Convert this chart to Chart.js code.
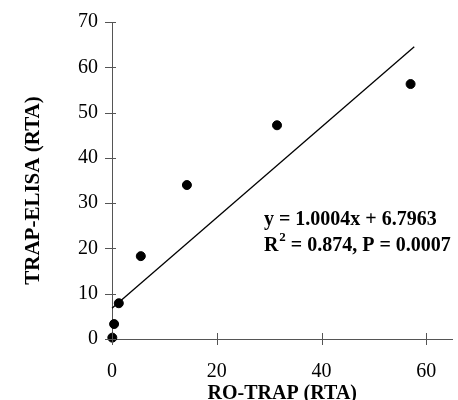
<!DOCTYPE html>
<html>
<head>
<meta charset="utf-8">
<script src="https://cdn.jsdelivr.net/npm/chart.js@4.4.1/dist/chart.umd.min.js"></script>
<style>
html,body{margin:0;padding:0;background:#fff;overflow:hidden;}
canvas{display:block;}
</style>
</head>
<body>
<canvas id="c" width="458" height="400"></canvas>
<script>
// Data
const roTrap = [0.06, 0.4, 1.3, 5.5, 14.3, 31.5, 57.0];
const trapElisa = [0.3, 3.3, 7.9, 18.3, 34.0, 47.2, 56.3];
const slope = 1.0004;
const intercept = 6.7963;
const fitRange = [0, 57.7];
const xTicks = [0, 20, 40, 60];
const yTicks = [0, 10, 20, 30, 40, 50, 60, 70];
const xTitle = 'RO-TRAP (RTA)';
const yTitle = 'TRAP-ELISA (RTA)';
const eqLine1 = 'y = 1.0004x + 6.7963';
const eqLine2a = 'R';
const eqLine2sup = '2';
const eqLine2b = ' = 0.874, P = 0.0007';

const points = roTrap.map((x, i) => ({x: x, y: trapElisa[i]}));
const fitPts = fitRange.map(x => ({x: x, y: slope * x + intercept}));

const FONT = "'Liberation Serif', 'Times New Roman', serif";
const AXIS_COLOR = '#555';

const crossTicks = {
  id: 'crossTicks',
  afterDraw(chart) {
    const ctx = chart.ctx;
    const xs = chart.scales.x, ys = chart.scales.y;
    ctx.save();
    ctx.strokeStyle = AXIS_COLOR;
    ctx.lineWidth = 1;
    ctx.beginPath();
    xs.ticks.forEach(t => {
      const px = Math.round(xs.getPixelForValue(t.value)) + 0.5;
      ctx.moveTo(px, ys.bottom - 6);
      ctx.lineTo(px, ys.bottom + 6);
    });
    ys.ticks.forEach(t => {
      const py = Math.round(ys.getPixelForValue(t.value)) + 0.5;
      ctx.moveTo(xs.left - 7, py);
      ctx.lineTo(xs.left + 4, py);
    });
    ctx.stroke();
    ctx.restore();
  }
};

const yTitlePlugin = {
  id: 'yTitlePlugin',
  afterDraw(chart) {
    const ctx = chart.ctx;
    const ys = chart.scales.y;
    ctx.save();
    ctx.translate(34, (ys.top + ys.bottom) / 2 + 10);
    ctx.rotate(-Math.PI / 2);
    ctx.fillStyle = '#000';
    ctx.textAlign = 'center';
    ctx.textBaseline = 'middle';
    ctx.font = 'bold 21px ' + FONT;
    ctx.fillText(yTitle, 0, 0);
    ctx.restore();
  }
};

const equation = {
  id: 'equation',
  afterDraw(chart) {
    const ctx = chart.ctx;
    const xs = chart.scales.x, ys = chart.scales.y;
    const x0 = xs.getPixelForValue(29.0);
    const y1 = ys.getPixelForValue(26.3);
    const y2 = ys.getPixelForValue(20.6);
    ctx.save();
    ctx.fillStyle = '#000';
    ctx.textBaseline = 'middle';
    ctx.textAlign = 'left';
    ctx.font = 'bold 20px ' + FONT;
    ctx.fillText(eqLine1, x0, y1);
    ctx.fillText(eqLine2a, x0, y2);
    let w = ctx.measureText(eqLine2a).width;
    ctx.font = 'bold 13px ' + FONT;
    ctx.fillText(eqLine2sup, x0 + w + 1, y2 - 8);
    const w2 = ctx.measureText(eqLine2sup).width;
    ctx.font = 'bold 20px ' + FONT;
    ctx.fillText(eqLine2b, x0 + w + w2 + 1, y2);
    ctx.restore();
  }
};

new Chart(document.getElementById('c'), {
  type: 'scatter',
  data: {
    datasets: [
      {
        type: 'scatter',
        data: points,
        backgroundColor: '#000',
        borderColor: '#000',
        pointRadius: 4.5,
        pointHoverRadius: 4.5,
        clip: false
      },
      {
        type: 'line',
        data: fitPts,
        borderColor: '#000',
        borderWidth: 1.3,
        pointRadius: 0,
        fill: false,
        tension: 0,
        clip: false
      }
    ]
  },
  options: {
    responsive: false,
    animation: false,
    events: [],
    layout: {padding: {top: 22, right: 3, left: 0, bottom: 0}},
    plugins: {legend: {display: false}, tooltip: {enabled: false}},
    scales: {
      x: {
        type: 'linear',
        min: 0,
        max: 65,
        afterBuildTicks(s) { s.ticks = xTicks.map(v => ({value: v})); },
        afterFit(s) { s.height = 61; s.paddingLeft = 0; s.paddingRight = 0; },
        grid: {display: true, drawOnChartArea: false, drawTicks: false},
        border: {display: true, color: AXIS_COLOR, width: 1},
        ticks: {color: '#000', font: {family: FONT, size: 20}, padding: 21, maxRotation: 0},
        title: {display: true, text: xTitle, color: '#000',
                font: {family: FONT, size: 20, weight: 'bold'}, padding: {top: 0, bottom: -6}}
      },
      y: {
        type: 'linear',
        min: 0,
        max: 70,
        afterBuildTicks(s) { s.ticks = yTicks.map(v => ({value: v})); },
        afterFit(s) { s.width = 112; s.paddingTop = 0; s.paddingBottom = 0; },
        grid: {display: true, drawOnChartArea: false, drawTicks: false},
        border: {display: true, color: AXIS_COLOR, width: 1},
        ticks: {color: '#000', font: {family: FONT, size: 20}, padding: 14},
        title: {display: false}
      }
    }
  },
  plugins: [crossTicks, yTitlePlugin, equation]
});
</script>
</body>
</html>
